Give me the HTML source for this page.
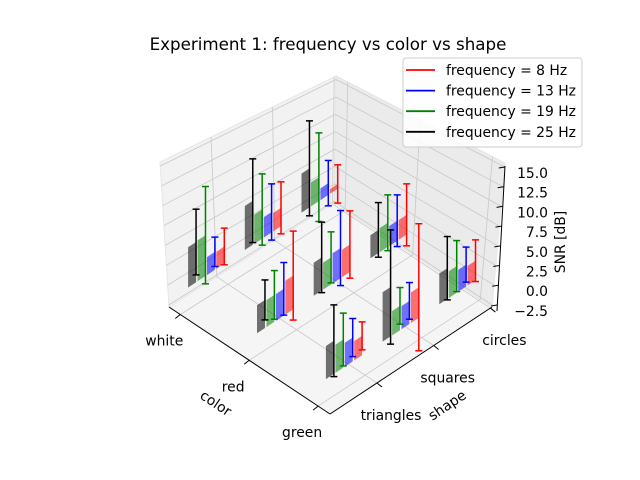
<!DOCTYPE html>
<html><head><meta charset="utf-8"><style>
body{margin:0;background:#fff}
svg{display:block;font-family:"DejaVu Sans","Liberation Sans",sans-serif}
</style></head><body>
<svg id="chart" width="640" height="480" viewBox="0 0 640 480"></svg>
<script>
const colorCats = ['white','red','green'];
const shapeCats = ['triangles','squares','circles'];
const freqLabels = ['frequency = 8 Hz','frequency = 13 Hz','frequency = 19 Hz','frequency = 25 Hz'];
const zTicks = [-2.5,0,2.5,5,7.5,10,12.5,15];
const zTickLabels = ['\u22122.5','0.0','2.5','5.0','7.5','10.0','12.5','15.0'];
// values ordered (color, shape): white-tri, white-sq, white-circ, red-tri, ..., green-circ
const mean25 = [5.09,5.58,4.94,3.56,4.20,2.94,4.19,6.25,3.89];
const err25  = [4.16,5.30,6.01,2.53,4.46,3.46,4.54,7.23,4.01];
const mean19 = [5.17,3.68,3.03,3.41,3.42,3.06,3.56,3.08,3.37];
const err19  = [6.16,4.51,5.61,3.08,3.23,3.53,3.34,2.32,3.23];
const mean13 = [2.28,2.58,1.49,3.39,3.81,2.53,3.02,2.92,2.77];
const err13  = [1.86,3.56,2.87,3.33,4.75,3.27,2.41,2.32,2.22];
const mean8  = [2.17,2.32,0.60,4.28,3.47,2.49,2.45,3.86,2.48];
const err8   = [2.32,3.29,2.42,5.63,4.26,3.92,1.77,8.04,2.64];

const NS='http://www.w3.org/2000/svg';
const svg=document.getElementById('chart');
function mk(tag,attrs,parent){const e=document.createElementNS(NS,tag);for(const k in attrs)e.setAttribute(k,attrs[k]);(parent||svg).appendChild(e);return e;}
// axis functions
const Z0=-2.76, ZR=18.27;
function cf(c){return 0.07+0.428*c;}
function sf(s){return 0.29+0.35*s;}
function zf(z){return (z-Z0)/ZR;}
function P(c,s,z){const a=cf(c),b=sf(s);return [169+a*161+b*162, 307+107*(a-b)-(z-Z0)*7.9];}
// pane corners
const L0=[169,307],L1=[160,162],K0=[334,203],K1=[336,76],R0=[492,307],R1=[505,163],F0=[330,414];
function lerp(a,b,t){return [a[0]+(b[0]-a[0])*t,a[1]+(b[1]-a[1])*t];}
function pts(a){return a.map(p=>p[0].toFixed(1)+','+p[1].toFixed(1)).join(' ');}

// panes
const gP=mk('g',{});


mk('polygon',{points:pts([L0,L1,K1,K0]),fill:'#f2f2f2',stroke:'#e6e6e6','stroke-width':1},gP);
mk('polygon',{points:pts([K0,K1,R1,R0]),fill:'#ebebeb',stroke:'#e6e6e6','stroke-width':1},gP);
mk('polygon',{points:pts([L0,K0,R0,F0]),fill:'#f5f5f5',stroke:'#e6e6e6','stroke-width':1},gP);
// grid
const gG=mk('g',{stroke:'#c8c8c8','stroke-width':0.8,fill:'none'});


zTicks.forEach(z=>{const t=zf(z);
  const a=lerp(L0,L1,t),b=lerp(K0,K1,t),c=lerp(R0,R1,t);
  mk('polyline',{points:pts([a,b,c])},gG);});
[0,1,2].forEach(i=>{
  const s=sf(i);
  const fl=lerp(L0,K0,s), fr=lerp(F0,R0,s), top=lerp(L1,K1,s);
  mk('polyline',{points:pts([fr,fl,top])},gG);
  const c=cf(i);
  const gl=lerp(L0,F0,c), gr=lerp(K0,R0,c), tp=lerp(K1,R1,c);
  mk('polyline',{points:pts([gl,gr,tp])},gG);
});

// axes lines
const gA=mk('g',{stroke:'#000','stroke-width':1,fill:'none'});


mk('line',{x1:169,y1:307,x2:330,y2:414},gA);
mk('line',{x1:330,y1:414,x2:492,y2:307},gA);
mk('line',{x1:505,y1:166,x2:497,y2:311},gA);
const txt=(x,y,s,attrs,name)=>{const e=mk('text',Object.assign({x:x,y:y,'font-size':13.9,fill:'#000'},attrs||{}));e.textContent=s;return e;};
colorCats.forEach((n,i)=>{const p=lerp(L0,F0,cf(i));
  mk('line',{x1:p[0],y1:p[1],x2:p[0]-5,y2:p[1]+4},gA);
  txt(p[0]-16,p[1]+31,n,{'text-anchor':'middle'},'color-tick-'+n);});
shapeCats.forEach((n,i)=>{const p=lerp(F0,R0,sf(i));
  mk('line',{x1:p[0],y1:p[1],x2:p[0]+5,y2:p[1]+4},gA);
  txt(p[0]+14,p[1]+37,n,{'text-anchor':'middle'},'shape-tick-'+n);});
zTicks.forEach((z,i)=>{const t=zf(z);const y=307-t*144;const x=497+8*t;
  mk('line',{x1:x-6,y1:y+1,x2:x,y2:y},gA);
  txt(548,y+11,zTickLabels[i],{'text-anchor':'end'},'z-tick-label');});
txt(216,408,'color',{'text-anchor':'middle',transform:'rotate(34 216 403)'},'x-axis-title');
txt(447,410,'shape',{'text-anchor':'middle',transform:'rotate(-34 447 405)'},'y-axis-title');
txt(565,242,'SNR [dB]',{'text-anchor':'middle',transform:'rotate(-90 565 242)'},'z-axis-title');

// data
const means=[mean25,mean19,mean13,mean8];
const errs=[err25,err19,err13,err8];
const cols=['#000000','#008000','#0000ff','#ff0000'];
const order=[];for(let c=0;c<3;c++)for(let t=0;t<3;t++)order.push([c,t]);
order.sort((a,b)=>(a[0]-a[1])-(b[0]-b[1]));
order.forEach(([c,t])=>{
  const g=mk('g',{});
  
  
  const idx=c*3+t;
  for(let i=3;i>=0;i--){
    const m=means[i][idx], sp=t-0.55+0.166*i;
    const q=[P(c,sp-0.14,0),P(c,sp,0),P(c,sp,m),P(c,sp-0.14,m)];
    const b=mk('polygon',{points:pts(q),fill:cols[i],'fill-opacity':0.55},g);
    
    
  }
  for(let i=3;i>=0;i--){
    const m=means[i][idx],e=errs[i][idx],sp=t-0.55+0.166*i;
    const a=P(c,sp,m-e),b=P(c,sp,m+e);
    const eb=mk('g',{stroke:cols[i],'stroke-width':1.5},g);
    
    
    mk('line',{x1:a[0],y1:a[1],x2:b[0],y2:b[1]},eb);
    mk('line',{x1:a[0]-3.5,y1:a[1],x2:a[0]+3.5,y2:a[1]},eb);
    mk('line',{x1:b[0]-3.5,y1:b[1],x2:b[0]+3.5,y2:b[1]},eb);
  }
});

// title
txt(328,50,'Experiment 1: frequency vs color vs shape',{'text-anchor':'middle','font-size':16.7},'chart-title');
// legend
const lg=mk('g',{});


mk('rect',{x:403,y:58,width:179,height:89,rx:3,fill:'#fff','fill-opacity':0.85,stroke:'#cccccc'},lg);
const lcols=['#ff0000','#0000ff','#008000','#000000'];
freqLabels.forEach((l,i)=>{const y=70+20.6*i;
  const ln=mk('line',{x1:406,y1:y,x2:435,y2:y,stroke:lcols[i],'stroke-width':1.8},lg);
  
  
  const t=mk('text',{x:446,y:y+5,'font-size':13.9},lg);t.textContent=l;
  
  });
</script>
</body></html>
